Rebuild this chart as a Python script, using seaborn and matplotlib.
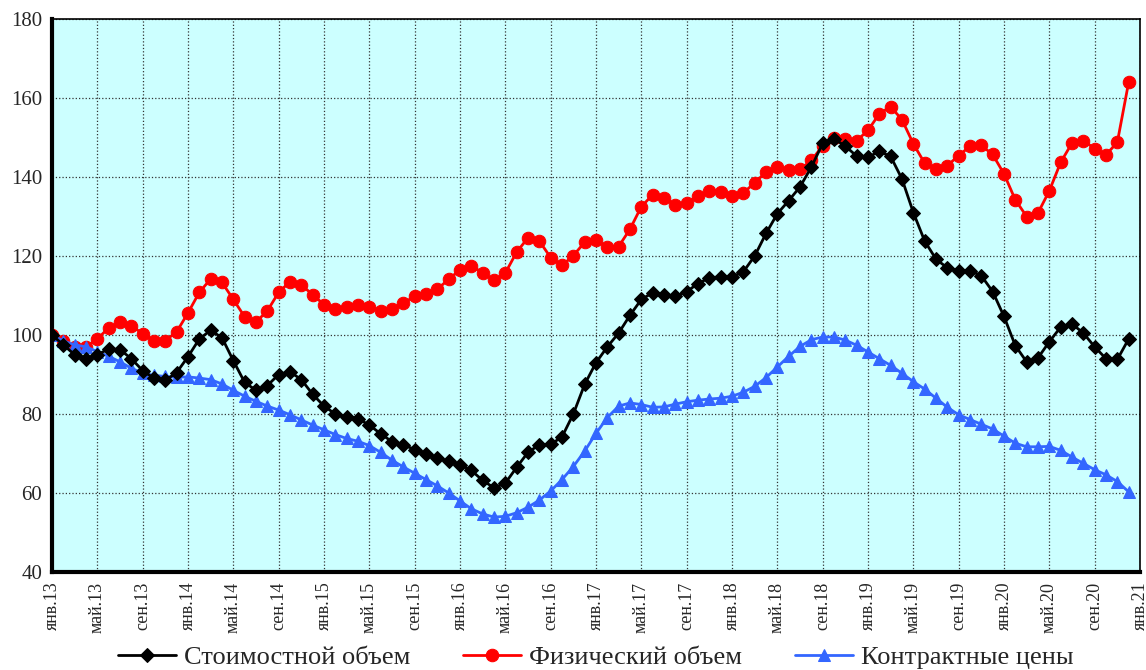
import numpy as np
import pandas as pd
import matplotlib
matplotlib.use('Agg')
import matplotlib.pyplot as plt
import seaborn as sns

# Значения рядов, янв.2013 - дек.2020 (2013 = 100)
stoim = [100, 97.5, 95, 94, 95, 96.5, 96.3, 94, 91, 89, 88.5, 90.5,
         94.5, 99, 101.2, 99.3, 93.5, 88, 86, 87.2, 90, 90.7, 88.7, 85,
         82, 80, 79.3, 78.8, 77.2, 75, 73, 72.2, 71, 70, 68.8, 68,
         67.2, 65.7, 63.2, 61.3, 62.5, 66.5, 70.3, 72.2, 72.3, 74.2, 80, 87.5,
         93, 97, 100.5, 105, 109, 110.7, 110.2, 109.8, 111, 113, 114.5, 114.7,
         114.7, 116, 120, 125.7, 130.7, 134, 137.5, 142.5, 148.5, 149.7, 147.8, 145.3,
         145, 146.5, 145.2, 139.5, 131, 123.8, 119.2, 117, 116.3, 116.3, 115, 111,
         104.7, 97.3, 93.2, 94.2, 98.3, 102, 102.8, 100.5, 97, 94, 93.8, 99]
fiz = [100, 98.5, 97, 97, 99, 101.8, 103.2, 102.4, 100.3, 98.6, 98.6, 100.8,
       105.6, 110.8, 114.2, 113.3, 109, 104.6, 103.3, 106.1, 110.8, 113.5, 112.7, 110.2,
       107.7, 106.7, 107.2, 107.7, 107.2, 106.2, 106.7, 108.1, 109.8, 110.5, 111.6, 114.1,
       116.5, 117.5, 115.8, 113.8, 115.7, 121, 124.6, 123.8, 119.6, 117.6, 120.1, 123.5,
       124, 122.2, 122.4, 126.8, 132.5, 135.5, 134.7, 133, 133.5, 135.1, 136.4, 136.2,
       135.3, 136, 138.5, 141.3, 142.5, 141.8, 141.9, 144.2, 147.9, 150, 149.7, 149.2,
       151.8, 156, 157.8, 154.5, 148.4, 143.5, 142, 142.9, 145.4, 147.8, 148, 145.7,
       140.8, 134.2, 130, 130.9, 136.5, 143.7, 148.6, 149.2, 147.2, 145.6, 148.8, 164]
ceny = [100, 98.5, 97.5, 97, 95.8, 94.6, 93.2, 91.6, 90.3, 89.8, 89.5, 89.3,
        89.4, 89.1, 88.7, 87.6, 86, 84.5, 83.2, 82, 81, 79.8, 78.5, 77.2,
        76, 74.8, 73.8, 73.1, 72, 70.3, 68.3, 66.6, 65, 63.4, 61.8, 60,
        58, 56, 54.7, 53.9, 54.1, 55, 56.4, 58.2, 60.5, 63.4, 66.7, 70.6,
        75.1, 79.1, 82, 82.8, 82.4, 81.7, 81.8, 82.5, 83.1, 83.5, 83.8, 84,
        84.5, 85.5, 87, 89.2, 91.9, 94.6, 97.1, 98.8, 99.5, 99.5, 98.7, 97.4,
        95.7, 94, 92.3, 90.3, 88.2, 86.3, 84, 81.7, 79.8, 78.6, 77.4, 76.2,
        74.4, 72.6, 71.7, 71.7, 71.8, 70.8, 69.1, 67.5, 65.9, 64.6, 62.9, 60.3]

tick_labels = ['янв.13', 'май.13', 'сен.13', 'янв.14', 'май.14', 'сен.14',
               'янв.15', 'май.15', 'сен.15', 'янв.16', 'май.16', 'сен.16',
               'янв.17', 'май.17', 'сен.17', 'янв.18', 'май.18', 'сен.18',
               'янв.19', 'май.19', 'сен.19', 'янв.20', 'май.20', 'сен.20', 'янв.21']

months = np.arange(len(stoim))
df = pd.DataFrame({'m': months, 'stoim': stoim, 'fiz': fiz, 'ceny': ceny})

sns.set_style('white')
plt.rcParams['font.family'] = ['Liberation Serif', 'DejaVu Serif']

fig = plt.figure(figsize=(11.46, 6.70), dpi=100)
ax = fig.add_axes([52 / 1146, 1 - 572 / 670, 1088 / 1146, 553 / 670])
ax.set_facecolor('#CCFFFF')

sns.lineplot(data=df, x='m', y='stoim', ax=ax, color='black', lw=2,
             marker='D', markersize=7, markeredgecolor='black',
             label='Стоимостной объем', zorder=4)
sns.lineplot(data=df, x='m', y='fiz', ax=ax, color='#FF0000', lw=2,
             marker='o', markersize=9, markeredgecolor='#FF0000',
             label='Физический объем', zorder=3)
sns.lineplot(data=df, x='m', y='ceny', ax=ax, color='#3366FF', lw=2,
             marker='^', markersize=9, markeredgecolor='#3366FF',
             label='Контрактные цены', zorder=3)

ax.set_xlim(0, 96)
ax.set_ylim(40, 180)
ax.set_xticks(np.arange(0, 97, 4))
ax.set_xticklabels(tick_labels, rotation=90, fontsize=13)
ax.set_yticks(np.arange(40, 181, 20))
ax.tick_params(axis='y', labelsize=15, direction='inout', length=10, width=2.5, pad=2)
ax.tick_params(axis='x', direction='inout', length=10, width=2.5, pad=2)
ax.set_xlabel('')
ax.set_ylabel('')
ax.grid(True, color='#333333', linestyle=':', linewidth=0.9)

for side in ['top', 'right']:
    ax.spines[side].set_linewidth(1.2)
    ax.spines[side].set_color('black')
for side in ['left', 'bottom']:
    ax.spines[side].set_linewidth(3)
    ax.spines[side].set_color('black')

ax.legend(loc='center', bbox_to_anchor=(0.5, -0.155), ncol=3, frameon=False,
          fontsize=19, handlelength=2.2, columnspacing=2.0, handletextpad=0.3)

fig.savefig('out.png', dpi=100)
